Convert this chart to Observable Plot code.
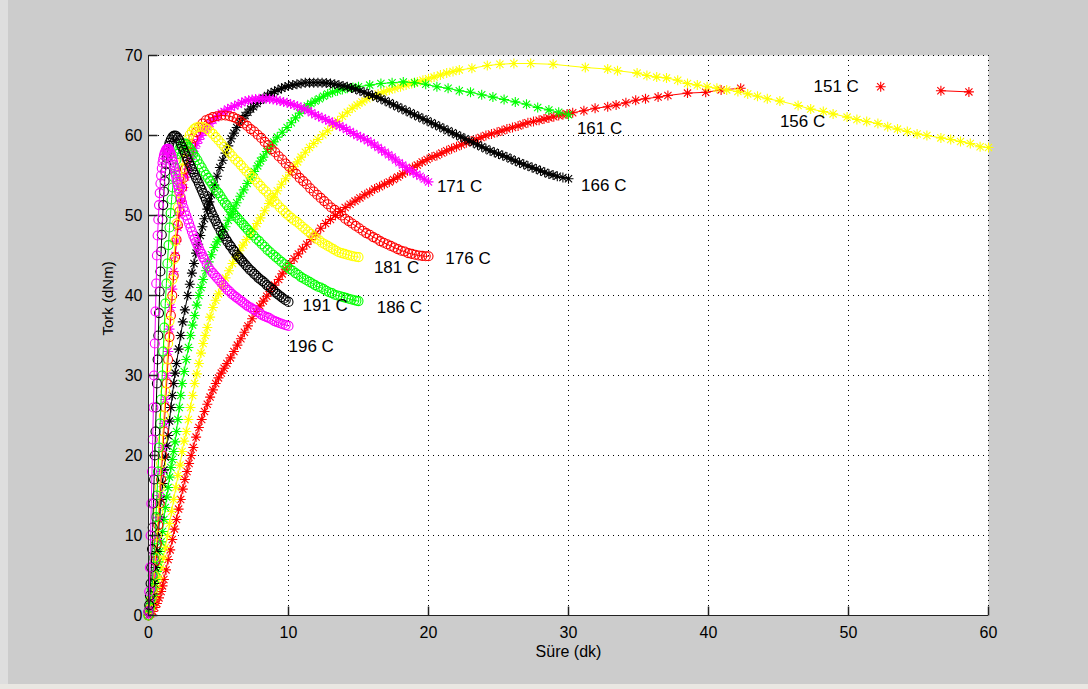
<!DOCTYPE html>
<html><head><meta charset="utf-8">
<script src="https://cdn.jsdelivr.net/npm/d3@7"></script>
<script src="https://cdn.jsdelivr.net/npm/@observablehq/plot@0.6"></script>
<style>
html,body{margin:0;padding:0;background:#cccccc;}
#chart{position:relative;width:1088px;height:689px;overflow:hidden;
 background: linear-gradient(to bottom, rgba(0,0,0,0) 684px, #e9e7e2 684px), linear-gradient(to right, #dedede 8px, #cccccc 8px);}
</style></head><body><div id="chart"></div>
<script>
// ---- data (time in min, torque in dNm) ----
const s151 = [[0,0],[0.15,0.2],[0.3,0.5],[0.45,1],[0.6,1.5],[0.75,2.2],[0.9,3],[1.0,3.7],[1.1,4.5],[1.25,5.7],[1.4,7],[1.55,8.2],[1.7,9.5],[1.85,10.8],[2.0,12],[2.15,13.3],[2.3,14.5],[2.45,15.8],[2.6,17],[2.75,18],[2.9,19],[3.05,20],[3.2,21],[3.4,22.3],[3.6,23.5],[3.8,24.5],[4.0,25.5],[4.2,26.4],[4.4,27.3],[4.6,28.2],[4.8,29],[5.0,29.7],[5.2,30.3],[5.4,30.9],[5.6,31.5],[5.85,32.2],[6.1,33],[6.35,33.8],[6.6,34.6],[6.85,35.4],[7.1,36.2],[7.4,37.1],[7.7,38],[7.95,38.7],[8.2,39.3],[8.45,39.9],[8.7,40.5],[9.0,41.3],[9.3,42],[9.55,42.7],[9.8,43.3],[10.1,44],[10.4,44.6],[10.7,45.2],[11.0,45.8],[11.3,46.4],[11.6,47],[11.95,47.7],[12.3,48.4],[12.65,49],[13.0,49.5],[13.35,50],[13.7,50.5],[14.05,51],[14.4,51.4],[14.75,51.8],[15.1,52.2],[15.45,52.6],[15.8,52.9],[16.15,53.3],[16.5,53.6],[16.85,53.9],[17.2,54.2],[17.5,54.5],[17.8,54.8],[18.15,55.2],[18.5,55.6],[18.85,56],[19.2,56.3],[19.55,56.7],[19.9,57],[20.25,57.3],[20.6,57.5],[20.95,57.8],[21.3,58.1],[21.65,58.35],[22.0,58.6],[22.35,58.85],[22.7,59.1],[23.05,59.3],[23.4,59.5],[23.75,59.75],[24.1,60],[24.5,60.2],[24.9,60.4],[25.25,60.6],[25.6,60.8],[26.0,61],[26.4,61.2],[26.75,61.4],[27.1,61.6],[27.5,61.75],[27.9,61.9],[28.25,62.05],[28.6,62.2],[28.95,62.35],[29.3,62.5],[29.6,62.6],[29.9,62.7],[30.3,62.85],[31.1,63.1],[31.9,63.4],[32.8,63.6],[33.4,63.8],[34.1,64.1],[34.8,64.4],[35.5,64.6],[36.4,64.8],[37.1,65.0],[38.5,65.3],[39.8,65.4],[40.9,65.7],[42.3,65.9]];
const s156 = [[0,0],[0.15,0.7],[0.3,1.5],[0.45,2.5],[0.6,3.5],[0.75,4.7],[0.9,6],[1.05,7.2],[1.2,8.5],[1.35,10],[1.5,11.5],[1.65,13],[1.8,14.5],[1.95,16],[2.1,17.5],[2.25,18.8],[2.4,20.5],[2.55,21.8],[2.7,23],[2.85,24.5],[3.0,26],[3.15,27.5],[3.3,29],[3.45,30.2],[3.6,31.5],[3.75,32.8],[3.9,34],[4.05,35],[4.2,36],[4.4,37.3],[4.6,38.5],[4.8,39.4],[5.0,40.2],[5.25,41.2],[5.5,42.2],[5.75,43.1],[6.0,44],[6.25,44.8],[6.5,45.6],[6.75,46.3],[7.0,47],[7.25,47.6],[7.5,48.3],[7.75,49],[8.0,49.7],[8.3,50.6],[8.6,51.5],[8.9,52.3],[9.2,53.1],[9.5,53.9],[9.8,54.6],[10.1,55.4],[10.4,56.1],[10.65,56.7],[10.9,57.3],[11.2,57.9],[11.5,58.5],[11.8,59],[12.1,59.5],[12.45,60.1],[12.8,60.6],[13.15,61.2],[13.5,61.8],[13.85,62.4],[14.2,62.9],[14.55,63.4],[14.9,63.8],[15.25,64.2],[15.6,64.6],[16.0,64.9],[16.4,65.2],[16.8,65.45],[17.2,65.7],[17.6,65.9],[18,66.1],[18.4,66.3],[18.8,66.5],[19.2,66.7],[19.6,66.9],[20.0,67.1],[20.4,67.3],[20.85,67.55],[21.3,67.8],[21.75,68],[22.2,68.2],[23.1,68.4],[24.2,68.75],[25.1,68.9],[26.1,69],[27.3,69],[28.9,68.9],[31.2,68.5],[32.8,68.3],[33.5,68.1],[34.9,67.8],[35.6,67.5],[36.3,67.3],[37.0,67.2],[37.8,66.9],[38.5,66.5],[39.2,66.3],[39.9,66.1],[40.6,65.9],[41.3,65.7],[42.1,65.5],[42.8,65.2],[43.5,64.9],[44.2,64.6],[45.1,64.3],[46.4,63.75],[47.3,63.3],[48.2,63.0],[48.9,62.7],[49.9,62.3],[50.6,62.0],[51.3,61.75],[52.1,61.5],[52.8,61.1],[53.5,60.8],[54.2,60.5],[54.9,60.2],[55.6,60.0],[56.6,59.7],[57.3,59.5],[58.0,59.25],[58.7,59.0],[59.4,58.6],[60,58.5]];
const s161 = [[0,0],[0.1,0.7],[0.2,1.5],[0.3,2.5],[0.4,3.5],[0.5,4.5],[0.6,5.5],[0.7,6.7],[0.8,8],[0.9,9.2],[1.0,10.5],[1.1,12],[1.2,13.5],[1.3,14.8],[1.4,16],[1.5,17.3],[1.6,18.5],[1.7,19.5],[1.8,20.5],[1.9,21.7],[2.0,23],[2.1,24.5],[2.2,26],[2.3,27.5],[2.4,29],[2.55,30.5],[2.7,32],[2.85,33.5],[3.0,35],[3.15,36.3],[3.3,37.5],[3.45,38.8],[3.6,40],[3.75,41],[3.9,42],[4.1,43.1],[4.3,44.2],[4.5,45.1],[4.7,46],[4.9,46.7],[5.1,47.3],[5.3,48],[5.5,48.6],[5.7,49.4],[5.9,50.1],[6.1,50.9],[6.3,51.6],[6.55,52.4],[6.8,53.2],[7.05,54],[7.3,54.7],[7.55,55.5],[7.8,56.2],[8.0,56.8],[8.2,57.3],[8.45,58],[8.7,58.6],[8.95,59.2],[9.2,59.8],[9.55,60.4],[9.9,61],[10.2,61.6],[10.5,62.2],[10.8,62.8],[11.1,63.3],[11.35,63.7],[11.6,64],[11.9,64.3],[12.2,64.6],[12.5,64.9],[12.8,65.2],[13.15,65.4],[13.5,65.6],[13.85,65.75],[14.2,65.9],[14.6,66],[15,66.1],[15.8,66.3],[16.6,66.5],[17.4,66.6],[18.2,66.7],[19,66.6],[19.8,66.4],[20.6,66.1],[21.4,65.9],[22.2,65.6],[23,65.4],[23.8,65.1],[24.6,64.8],[25.4,64.5],[26.2,64.2],[27,63.9],[27.8,63.5],[28.6,63.2],[29.3,62.9],[30,62.6]];
const s166 = [[0,0],[0.1,0.6],[0.2,1.5],[0.3,2.7],[0.4,4],[0.5,6],[0.6,8],[0.7,10],[0.8,12.3],[0.9,14.5],[1.0,16.5],[1.1,18.2],[1.2,19.8],[1.3,21.2],[1.4,22.5],[1.5,24.3],[1.6,26],[1.7,27.5],[1.8,29],[1.9,30.3],[2.0,31.5],[2.15,33.3],[2.3,35],[2.45,36.7],[2.6,38.2],[2.8,40],[2.95,41.4],[3.1,42.8],[3.25,44],[3.4,45.3],[3.55,46.4],[3.7,47.5],[3.85,48.6],[4.0,49.6],[4.2,50.8],[4.35,51.7],[4.5,52.6],[4.7,53.8],[4.9,54.9],[5.1,56],[5.3,56.9],[5.5,57.8],[5.7,58.7],[5.9,59.6],[6.1,60.3],[6.3,61],[6.5,61.6],[6.7,62.1],[6.9,62.5],[7.1,62.9],[7.3,63.3],[7.5,63.6],[7.75,64],[8.0,64.4],[8.25,64.7],[8.5,65],[8.75,65.3],[9.0,65.5],[9.25,65.7],[9.5,65.9],[9.75,66.05],[10.0,66.2],[10.3,66.3],[10.6,66.4],[10.9,66.5],[11.2,66.6],[11.5,66.6],[11.8,66.6],[12.1,66.6],[12.4,66.6],[12.7,66.55],[13.0,66.5],[13.3,66.4],[13.6,66.3],[13.9,66.2],[14.2,66.1],[14.5,65.95],[14.8,65.8],[15.1,65.6],[15.4,65.4],[15.7,65.2],[16.0,65],[16.3,64.8],[16.6,64.6],[16.9,64.35],[17.2,64.1],[17.5,63.85],[17.8,63.6],[18.1,63.35],[18.4,63.1],[18.7,62.85],[19.0,62.6],[19.3,62.35],[19.6,62.1],[19.9,61.85],[20.2,61.6],[20.5,61.35],[20.8,61.1],[21.1,60.85],[21.4,60.6],[21.7,60.35],[22.0,60.1],[22.3,59.85],[22.6,59.6],[22.9,59.35],[23.2,59.1],[23.5,58.85],[23.8,58.6],[24.1,58.35],[24.4,58.1],[24.7,57.9],[25.0,57.7],[25.3,57.5],[25.6,57.3],[25.9,57.05],[26.2,56.8],[26.5,56.6],[26.8,56.4],[27.1,56.2],[27.4,56],[27.7,55.8],[28.0,55.6],[28.3,55.4],[28.6,55.2],[28.9,55.05],[29.2,54.9],[29.6,54.75],[30,54.6]];
const s171 = [[0,0],[0.1,0.8],[0.2,2],[0.3,3.3],[0.4,5],[0.5,7],[0.6,9.5],[0.7,12.2],[0.8,15],[0.9,18],[1.0,21],[1.1,24],[1.2,27],[1.3,30],[1.4,33],[1.5,35.8],[1.6,38.5],[1.7,40.8],[1.8,43],[1.9,45],[2.0,46.8],[2.1,48.5],[2.2,50],[2.35,51.8],[2.5,53.5],[2.65,54.8],[2.8,55.8],[3.0,57],[3.15,57.7],[3.3,58.4],[3.45,59],[3.6,59.5],[3.75,60],[3.9,60.4],[4.05,60.8],[4.2,61.1],[4.4,61.5],[4.6,61.9],[4.8,62.2],[5.0,62.5],[5.2,62.8],[5.4,63],[5.65,63.3],[5.9,63.5],[6.15,63.7],[6.4,63.9],[6.65,64.1],[6.9,64.3],[7.15,64.4],[7.4,64.5],[7.65,64.55],[7.9,64.6],[8.15,64.6],[8.4,64.6],[8.65,64.55],[8.9,64.5],[9.15,64.4],[9.4,64.3],[9.65,64.2],[9.9,64.1],[10.15,63.95],[10.4,63.8],[10.65,63.65],[10.9,63.5],[11.15,63.3],[11.4,63.1],[11.65,62.85],[11.9,62.6],[12.15,62.4],[12.4,62.2],[12.65,62],[12.9,61.8],[13.15,61.6],[13.4,61.4],[13.65,61.2],[13.9,61],[14.15,60.75],[14.4,60.5],[14.65,60.25],[14.9,60],[15.15,59.8],[15.4,59.6],[15.65,59.35],[15.9,59.1],[16.15,58.8],[16.4,58.5],[16.65,58.2],[16.9,57.9],[17.15,57.6],[17.4,57.3],[17.65,56.95],[17.9,56.6],[18.15,56.3],[18.4,56],[18.65,55.7],[18.9,55.4],[19.15,55.15],[19.4,54.9],[19.7,54.55],[20,54.2]];
const s176 = [[0,0],[0.1,0.8],[0.2,2],[0.3,3.3],[0.4,5],[0.5,6.8],[0.6,9],[0.7,11.3],[0.8,14],[0.9,17],[1.0,20],[1.1,23],[1.2,26],[1.3,29],[1.4,32],[1.5,34.8],[1.6,37.5],[1.7,40],[1.8,42.5],[1.9,44.8],[2.0,47],[2.1,48.8],[2.2,50.5],[2.3,52.1],[2.4,53.5],[2.5,54.7],[2.6,55.8],[2.75,57],[2.9,58],[3.05,58.9],[3.2,59.7],[3.4,60.4],[3.6,61],[3.85,61.5],[4.1,61.9],[4.35,62.1],[4.6,62.3],[4.9,62.4],[5.2,62.5],[5.5,62.5],[5.8,62.4],[6.05,62.3],[6.3,62.1],[6.55,61.8],[6.8,61.5],[7.05,61.2],[7.3,60.8],[7.55,60.5],[7.8,60.1],[8.05,59.7],[8.3,59.2],[8.55,58.8],[8.8,58.3],[9.05,57.9],[9.3,57.4],[9.55,57],[9.8,56.5],[10.05,56.1],[10.3,55.6],[10.55,55.2],[10.8,54.7],[11.05,54.3],[11.3,53.9],[11.55,53.4],[11.8,53],[12.05,52.6],[12.3,52.2],[12.55,51.8],[12.8,51.4],[13.05,51],[13.3,50.7],[13.55,50.3],[13.8,50],[14.05,49.6],[14.3,49.3],[14.55,49],[14.8,48.7],[15.05,48.4],[15.3,48.1],[15.55,47.8],[15.8,47.6],[16.05,47.3],[16.3,47.1],[16.55,46.8],[16.8,46.6],[17.05,46.4],[17.3,46.2],[17.55,46],[17.8,45.8],[18.05,45.6],[18.3,45.5],[18.55,45.3],[18.8,45.2],[19.05,45.1],[19.3,45],[19.55,44.95],[19.8,44.9],[20,44.9]];
const s181 = [[0,0],[0.1,0.8],[0.2,2],[0.3,3.3],[0.4,5],[0.5,7.3],[0.6,10],[0.7,13],[0.8,16],[0.9,19],[1.0,22],[1.1,25],[1.2,28],[1.3,31],[1.4,34],[1.5,36.8],[1.6,39.5],[1.7,42],[1.8,44.5],[1.9,46.8],[2.0,49],[2.1,51],[2.2,52.8],[2.3,54.4],[2.4,55.8],[2.5,57],[2.6,58],[2.7,58.8],[2.8,59.5],[2.95,60.1],[3.1,60.5],[3.25,60.8],[3.4,61],[3.6,61.1],[3.8,61.1],[4.0,61],[4.2,60.8],[4.4,60.5],[4.6,60.2],[4.8,59.8],[5.0,59.4],[5.2,59],[5.4,58.6],[5.6,58.2],[5.8,57.8],[6.0,57.4],[6.2,57],[6.4,56.7],[6.6,56.3],[6.8,55.9],[7.0,55.5],[7.2,55.2],[7.4,54.8],[7.6,54.5],[7.8,54.1],[8.0,53.7],[8.2,53.3],[8.4,53],[8.6,52.6],[8.8,52.2],[9.0,51.8],[9.2,51.4],[9.4,51],[9.6,50.7],[9.8,50.3],[10.0,50],[10.2,49.7],[10.4,49.4],[10.6,49.2],[10.8,48.9],[11.0,48.6],[11.2,48.3],[11.4,48],[11.6,47.7],[11.8,47.4],[12.0,47.1],[12.2,46.9],[12.4,46.6],[12.6,46.4],[12.8,46.2],[13.0,46],[13.2,45.8],[13.4,45.6],[13.6,45.4],[13.8,45.3],[14.0,45.2],[14.2,45.1],[14.4,45],[14.6,44.9],[14.8,44.85],[15,44.8]];
const s186 = [[0,0],[0.08,1],[0.15,2],[0.23,3.4],[0.3,5],[0.38,7.2],[0.45,9.5],[0.53,12.3],[0.6,15],[0.68,18],[0.75,21],[0.83,24],[0.9,27],[0.98,30],[1.05,33],[1.13,36],[1.2,39],[1.28,41.5],[1.35,44],[1.43,46.3],[1.5,48.5],[1.58,50.3],[1.65,52],[1.73,53.5],[1.8,54.8],[1.9,56],[2.0,57],[2.1,57.7],[2.2,58.3],[2.3,58.7],[2.45,59],[2.6,59],[2.7,58.9],[2.85,58.6],[2.95,58.4],[3.1,58],[3.2,57.7],[3.35,57.3],[3.5,56.9],[3.65,56.4],[3.8,56],[3.95,55.5],[4.1,55.1],[4.25,54.7],[4.4,54.3],[4.55,53.9],[4.7,53.5],[4.85,53.1],[5.0,52.8],[5.15,52.4],[5.3,52],[5.45,51.6],[5.6,51.3],[5.75,50.9],[5.9,50.6],[6.05,50.3],[6.2,50],[6.35,49.7],[6.5,49.4],[6.65,49.1],[6.8,48.8],[6.95,48.5],[7.1,48.2],[7.3,47.8],[7.5,47.5],[7.7,47.1],[7.9,46.8],[8.1,46.4],[8.3,46.1],[8.5,45.7],[8.7,45.4],[8.9,45.1],[9.1,44.8],[9.3,44.5],[9.5,44.2],[9.7,43.9],[9.9,43.6],[10.1,43.3],[10.3,43.1],[10.5,42.8],[10.7,42.6],[10.9,42.3],[11.1,42.1],[11.3,41.9],[11.5,41.7],[11.7,41.5],[11.9,41.3],[12.1,41.1],[12.3,41],[12.5,40.8],[12.7,40.6],[12.9,40.4],[13.1,40.3],[13.3,40.1],[13.5,40],[13.7,39.9],[13.9,39.8],[14.1,39.7],[14.3,39.6],[14.5,39.5],[14.7,39.4],[14.85,39.35],[15,39.3]];
const s191 = [[0,0.5],[0.05,1.3],[0.1,2.5],[0.15,4],[0.2,6],[0.25,8.3],[0.3,11],[0.35,14],[0.4,17],[0.45,20],[0.5,23],[0.55,26],[0.6,29],[0.65,32],[0.7,35],[0.75,37.8],[0.8,40.5],[0.85,43],[0.9,45.5],[0.95,47.6],[1.0,49.5],[1.05,51.3],[1.1,53],[1.15,54.3],[1.2,55.5],[1.25,56.4],[1.3,57.2],[1.35,57.8],[1.4,58.3],[1.45,58.7],[1.5,59.1],[1.6,59.5],[1.7,59.8],[1.8,59.95],[1.9,60],[2.0,59.9],[2.1,59.7],[2.2,59.4],[2.3,59],[2.4,58.6],[2.5,58.2],[2.6,57.8],[2.7,57.4],[2.8,57],[2.9,56.6],[3.0,56.2],[3.1,55.8],[3.2,55.4],[3.3,55.1],[3.4,54.7],[3.5,54.4],[3.6,54],[3.7,53.6],[3.8,53.2],[3.9,52.8],[4.0,52.4],[4.1,52],[4.2,51.6],[4.3,51.2],[4.4,50.8],[4.5,50.4],[4.6,50],[4.7,49.6],[4.8,49.3],[4.9,48.9],[5.0,48.6],[5.15,48.1],[5.3,47.7],[5.4,47.4],[5.55,47],[5.65,46.7],[5.8,46.3],[5.9,46.1],[6.05,45.7],[6.15,45.5],[6.3,45.1],[6.4,44.9],[6.5,44.7],[6.6,44.5],[6.7,44.3],[6.8,44.1],[6.95,43.8],[7.1,43.5],[7.25,43.2],[7.4,43],[7.55,42.7],[7.7,42.5],[7.85,42.2],[8.0,42],[8.15,41.8],[8.3,41.6],[8.45,41.3],[8.6,41.1],[8.75,40.9],[8.9,40.7],[9.05,40.4],[9.2,40.2],[9.35,40],[9.5,39.8],[9.65,39.6],[9.8,39.4],[10,39.2]];
const s196 = [[0,0.5],[0.05,3],[0.1,6],[0.15,10],[0.2,14],[0.25,18],[0.3,22],[0.35,26],[0.4,30],[0.45,34],[0.5,38],[0.55,41.5],[0.6,45],[0.65,47.5],[0.7,49.5],[0.75,51.3],[0.8,52.8],[0.85,54],[0.9,55],[0.95,55.9],[1.0,56.6],[1.05,57.1],[1.1,57.5],[1.15,57.8],[1.2,58],[1.25,58.2],[1.3,58.3],[1.35,58.35],[1.4,58.35],[1.45,58.3],[1.5,58.1],[1.55,57.9],[1.6,57.7],[1.65,57.4],[1.7,57.1],[1.75,56.7],[1.8,56.3],[1.85,55.9],[1.9,55.5],[1.95,55.1],[2.0,54.6],[2.05,54.2],[2.1,53.8],[2.15,53.4],[2.2,53],[2.3,52.3],[2.4,51.6],[2.5,51],[2.6,50.5],[2.7,50],[2.8,49.5],[2.9,49],[3.0,48.5],[3.1,48],[3.2,47.5],[3.3,47.1],[3.4,46.7],[3.5,46.3],[3.6,45.9],[3.7,45.5],[3.8,45.2],[3.9,44.8],[4.0,44.5],[4.15,44],[4.3,43.5],[4.45,43.1],[4.6,42.8],[4.75,42.5],[4.9,42.2],[5.05,41.9],[5.2,41.6],[5.35,41.3],[5.5,41],[5.65,40.7],[5.8,40.5],[5.95,40.2],[6.1,40],[6.25,39.8],[6.4,39.6],[6.55,39.4],[6.7,39.2],[6.85,39],[7.0,38.8],[7.15,38.6],[7.3,38.5],[7.45,38.3],[7.6,38.2],[7.8,37.9],[8.0,37.7],[8.15,37.5],[8.3,37.4],[8.45,37.3],[8.6,37.2],[8.8,37],[9.0,36.8],[9.15,36.7],[9.3,36.6],[9.45,36.5],[9.6,36.4],[9.8,36.3],[10,36.2]];

const seriesNames   = ["151 C","156 C","161 C","166 C","171 C","176 C","181 C","186 C","191 C","196 C"];
const seriesColors  = ["#ff0000","#ffff00","#00ff00","#000000","#ff00ff","#ff0000","#ffff00","#00ff00","#000000","#ff00ff"];
const seriesMarkers = ["star","star","star","star","star","circle","circle","circle","circle","circle"];
const seriesPoints  = [s151,s156,s161,s166,s171,s176,s181,s186,s191,s196];

// in-plot labels
const labelText = ["151 C","156 C","161 C","166 C","171 C","176 C","181 C","186 C","191 C","196 C"];
const labelX    = [47.5, 45.1, 30.6, 30.9, 20.6, 21.2, 16.1, 16.3, 11.0, 10.0];
const labelY    = [66.1, 61.75, 60.9, 53.75, 53.6, 44.6, 43.5, 38.5, 38.75, 33.6];

// key markers next to "151 C"
const key151Dot  = [[52.3, 66.1]];
const key151Line = [[56.6, 65.6], [58.6, 65.45]];

const xTicks = [0,10,20,30,40,50,60];
const yTicks = [0,10,20,30,40,50,60,70];
const xGrid  = [10,20,30,40,50,60];
const yGrid  = [10,20,30,40,50,60,70];

// ---- symbols ----
const starSymbol = {draw(ctx){const r=5,d=3.6;
  ctx.moveTo(-r,0);ctx.lineTo(r,0);ctx.moveTo(0,-r);ctx.lineTo(0,r);
  ctx.moveTo(-d,-d);ctx.lineTo(d,d);ctx.moveTo(-d,d);ctx.lineTo(d,-d);}};
const tickUp = {draw(ctx){ctx.moveTo(0,0);ctx.lineTo(0,-9);}};
const tickRight = {draw(ctx){ctx.moveTo(0,0);ctx.lineTo(9,0);}};

const FONT = "'Liberation Sans', Arial, Helvetica, sans-serif";
const X = d => d[0], Y = d => d[1];

const seriesMarks = [];
seriesPoints.forEach((pts, i) => {
  seriesMarks.push(Plot.line(pts, {x: X, y: Y, stroke: seriesColors[i], strokeWidth: 1}));
  seriesMarks.push(Plot.dot(pts, {x: X, y: Y, r: 4.5,
    symbol: seriesMarkers[i] === "star" ? starSymbol : "circle",
    stroke: seriesColors[i], fill: "none", strokeWidth: 1.1}));
});

const chart = Plot.plot({
  width: 1088, height: 689,
  marginLeft: 148, marginRight: 100, marginTop: 55, marginBottom: 74,
  style: {background: "transparent", fontFamily: FONT, color: "black", overflow: "visible"},
  x: {domain: [0, 60], axis: null},
  y: {domain: [0, 70], axis: null},
  marks: [
    Plot.frame({fill: "white", stroke: "none"}),
    Plot.ruleX(xGrid, {x: d => d, stroke: "black", strokeDasharray: "1,4", strokeWidth: 1}),
    Plot.ruleY(yGrid, {y: d => d, stroke: "black", strokeDasharray: "1,4", strokeWidth: 1}),
    ...seriesMarks,
    Plot.line(key151Line, {x: X, y: Y, stroke: "#ff0000", strokeWidth: 1}),
    Plot.dot(key151Line, {x: X, y: Y, symbol: starSymbol, stroke: "#ff0000", fill: "none", strokeWidth: 1.1}),
    Plot.dot(key151Dot, {x: X, y: Y, symbol: starSymbol, stroke: "#ff0000", fill: "none", strokeWidth: 1.1}),
    Plot.text(labelText, {x: (d, i) => labelX[i], y: (d, i) => labelY[i], text: d => d,
      textAnchor: "start", fontSize: 17, fill: "black"}),
    Plot.ruleX([0], {x: d => d, stroke: "#222", strokeWidth: 1}),
    Plot.ruleY([0], {y: d => d, stroke: "#222", strokeWidth: 1}),
    Plot.dot(xTicks, {x: d => d, y: () => 0, symbol: tickUp, stroke: "#222", fill: "none"}),
    Plot.dot(yTicks, {x: () => 0, y: d => d, symbol: tickRight, stroke: "#222", fill: "none"}),
    Plot.axisX(xTicks, {tickSize: 0, tickPadding: 11, fontSize: 16, label: null}),
    Plot.axisY(yTicks, {tickSize: 0, tickPadding: 6, fontSize: 16, label: null}),
    Plot.text(["Tork (dNm)"], {frameAnchor: "left", dx: -40, rotate: -90, fontSize: 15, fill: "black"}),
    Plot.text(["Süre (dk)"], {frameAnchor: "bottom", dy: 41, fontSize: 16, fill: "black"})
  ]
});
document.getElementById("chart").appendChild(chart);
</script></body></html>
